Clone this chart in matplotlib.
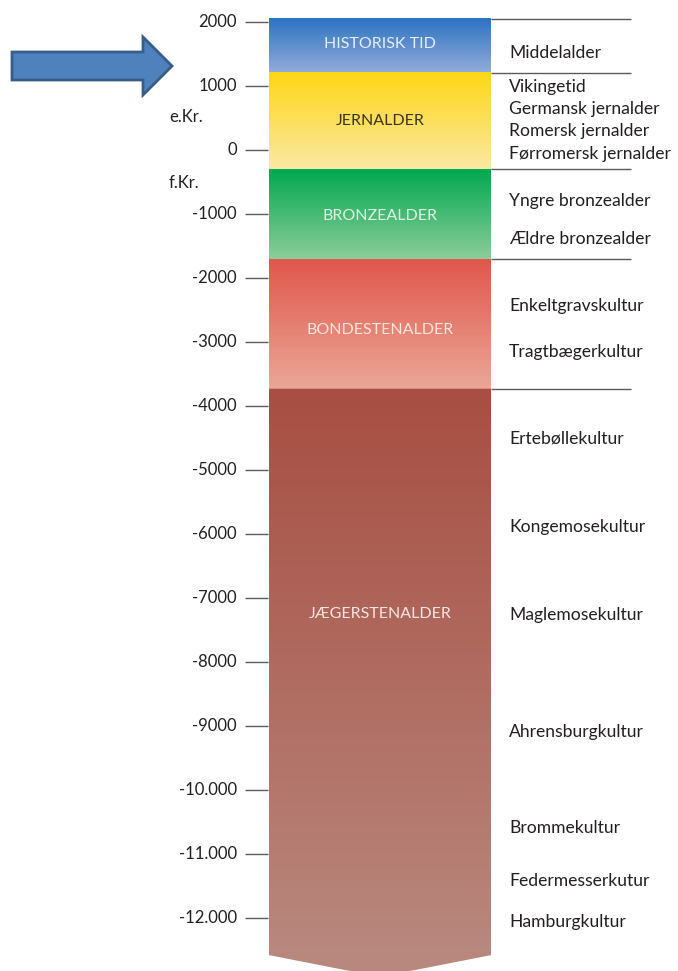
"""
Dansk forhistorie som tidssøjle: perioder, kulturer og årstal.
Gemmer out.png (678x971 px).
"""
import numpy as np
import matplotlib
matplotlib.use("Agg")
import matplotlib.pyplot as plt
from matplotlib.colors import LinearSegmentedColormap
from matplotlib.patches import Polygon, FancyArrow

plt.rcParams["font.family"] = ["Lato", "DejaVu Sans"]

# --- data ---------------------------------------------------------------
period_names = ["HISTORISK TID", "JERNALDER", "BRONZEALDER",
                "BONDESTENALDER", "JÆGERSTENALDER"]
period_start = [1200, -300, -1700, -3730, -12580]     # ældste år
period_end = [2050, 1200, -300, -1700, -3730]         # yngste år
period_label_y = [1660, 450, -1030, -2810, -7250]
period_top_col = ["#2c73c1", "#fdd714", "#00a84f", "#e0574b", "#a84e42"]
period_bot_col = ["#93acdb", "#fbe8a5", "#8dcd9b", "#eaa797", "#b98a80"]
period_text_col = ["#e9eef9", "#3b3322", "#e2f2e2", "#fbe6de", "#f6e7e2"]

culture_names = ["Middelalder", "Vikingetid", "Germansk jernalder",
                 "Romersk jernalder", "Førromersk jernalder",
                 "Yngre bronzealder", "Ældre bronzealder",
                 "Enkeltgravskultur", "Tragtbægerkultur",
                 "Ertebøllekultur", "Kongemosekultur", "Maglemosekultur",
                 "Ahrensburgkultur", "Brommekultur", "Federmesserkutur",
                 "Hamburgkultur"]
culture_y = [1520, 985, 640, 300, -60, -800, -1390, -2440, -3160,
             -4500, -5890, -7270, -9090, -10590, -11420, -12060]

tick_years = [2000, 1000, 0, -1000, -2000, -3000, -4000, -5000, -6000,
              -7000, -8000, -9000, -10000, -11000, -12000]
tick_labels = ["2000", "1000", "0", "-1000", "-2000", "-3000", "-4000",
               "-5000", "-6000", "-7000", "-8000", "-9000", "-10.000",
               "-11.000", "-12.000"]
era_labels = ["e.Kr.", "f.Kr."]
era_y = [515, -520]
chevron_tip = -12920

# --- layout (pixels på x-aksen) ------------------------------------------
W, H = 678, 971
COL_L, COL_R = 269, 491
COL_C = (COL_L + COL_R) / 2
TXT = "#231f20"

fig = plt.figure(figsize=(W / 100, H / 100), dpi=100)
ax = fig.add_axes([0, 0, 1, 1])
ax.set_xlim(0, W)
ax.set_ylim((150 - H) / 0.064, 150 / 0.064)   # år -> pixel: 64 px pr. 1000 år
ax.axis("off")

# perioder med farveforløb
last = len(period_names) - 1
for i, name in enumerate(period_names):
    cmap = LinearSegmentedColormap.from_list(name, [period_bot_col[i], period_top_col[i]])
    grad = np.linspace(1, 0, 256).reshape(-1, 1)
    lo = chevron_tip if i == last else period_start[i]
    im = ax.imshow(grad, cmap=cmap, aspect="auto", interpolation="bicubic",
                   extent=[COL_L, COL_R, lo, period_end[i]], zorder=1,
                   vmin=0, vmax=1)
    if i == last:
        # pilespids i bunden
        clip = Polygon([[COL_L, period_end[i]], [COL_R, period_end[i]],
                        [COL_R, period_start[i]], [COL_C, chevron_tip],
                        [COL_L, period_start[i]]], closed=True,
                       transform=ax.transData, facecolor="none", edgecolor="none")
        ax.add_patch(clip)
        im.set_clip_path(clip)
    ax.text(COL_C, period_label_y[i], name, ha="center", va="center",
            fontsize=11.5, color=period_text_col[i], zorder=3)

# skillelinjer til højre
bounds = sorted(set(period_end + period_start[:-1]), reverse=True)
ax.hlines(bounds, COL_R, 631, color="#5a5a5a", lw=1, zorder=2)

# akse-streger og årstal
ax.hlines(tick_years, 245, COL_L - 1, color="#5a5a5a", lw=1, zorder=2)
for y, lab in zip(tick_years, tick_labels):
    ax.text(237, y, lab, ha="right", va="center", fontsize=12, color=TXT)
for y, lab in zip(era_y, era_labels):
    ax.text(169, y, lab, ha="left", va="center", fontsize=12, color=TXT)

# kulturer
for lab, y in zip(culture_names, culture_y):
    ax.text(509, y, lab, ha="left", va="center", fontsize=12.6, color=TXT)

# blå pil
arrow_y = (150 - 66) / 0.064
ax.add_patch(FancyArrow(12, arrow_y, 160, 0, width=28 / 0.064,
                        head_width=58 / 0.064, head_length=29,
                        length_includes_head=True, facecolor="#4f81bd",
                        edgecolor="#385d8a", lw=2, zorder=4))

fig.savefig("out.png", dpi=100)
